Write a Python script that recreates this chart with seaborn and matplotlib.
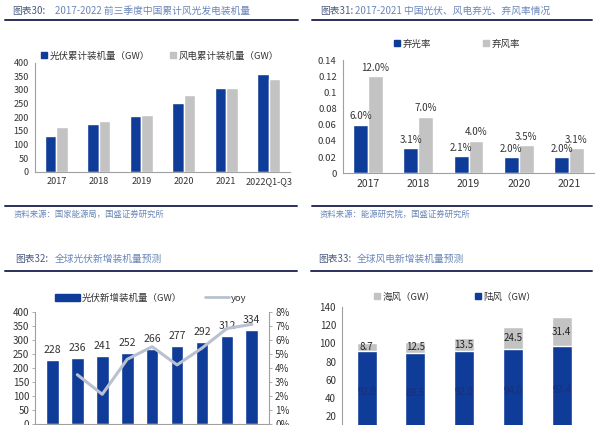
import numpy as np
import pandas as pd
import matplotlib.pyplot as plt
import seaborn as sns
from matplotlib.lines import Line2D
from matplotlib.patches import Patch
from matplotlib.ticker import FuncFormatter

# --- data ---
# chart 30: cumulative installed capacity in China (GW)
years_cum = ["2017", "2018", "2019", "2020", "2021", "2022Q1-Q3"]
pv_cum = [130, 175, 204, 253, 306, 358]
wind_cum = [163, 185, 209, 281, 306, 341]

# chart 31: curtailment rates
years_curt = ["2017", "2018", "2019", "2020", "2021"]
pv_curt = [0.060, 0.031, 0.021, 0.020, 0.020]
wind_curt = [0.120, 0.070, 0.040, 0.035, 0.031]

# chart 32: global new PV installations (GW) and yoy
years_pv_new = ["2022", "2023", "2024", "2025", "2026", "2027", "2028", "2029", "2030"]
pv_new = [228, 236, 241, 252, 266, 277, 292, 312, 334]
pv_yoy = [0.035, 0.021, 0.046, 0.055, 0.042, 0.054, 0.068, 0.071]

# chart 33: global new wind installations (GW)
years_wind_new = ["2022", "2023", "2024", "2025", "2026"]
onshore = [92.0, 89.5, 92.0, 94.0, 97.4]
offshore = [8.7, 12.5, 13.5, 24.5, 31.4]

BLUE = "#0e3c98"
GRAY = "#c3c3c3"
LINE_GRAY = "#b9c1d0"
SPINE = "#a0a0a0"
TXT = "#333333"
TITLE_DARK = "#4a5a80"
TITLE_BLUE = "#6a86b8"
RULE = "#2a2f5c"

W, H = 600, 425


def box(l, t, r, b):
    return [l / W, 1 - b / H, (r - l) / W, (b - t) / H]


def fx(x):
    return x / W


def fy(y):
    return 1 - y / H


def style_axis(ax, size):
    for s in ["top", "right"]:
        ax.spines[s].set_visible(False)
    for s in ["left", "bottom"]:
        ax.spines[s].set_color(SPINE)
        ax.spines[s].set_linewidth(0.8)
    ax.set_xlabel("")
    ax.set_ylabel("")
    ax.tick_params(axis="y", labelsize=size, colors=TXT, length=2.5, width=0.6, pad=2, color=SPINE)
    ax.tick_params(axis="x", which="major", labelsize=size, colors=TXT, length=0, pad=4)
    n = len(ax.get_xticks())
    ax.set_xticks(np.arange(-0.5, n, 1.0), minor=True)
    ax.tick_params(axis="x", which="minor", length=3, width=0.6, color=SPINE)


sns.set_style("white")
plt.rcParams["font.family"] = ["Noto Sans CJK SC", "DejaVu Sans"]

fig = plt.figure(figsize=(6, 4.25), dpi=100)

# ---------------- chart 30 ----------------
df1 = pd.DataFrame({
    "year": years_cum * 2,
    "val": pv_cum + wind_cum,
    "series": ["光伏"] * len(years_cum) + ["风电"] * len(years_cum),
})
ax1 = fig.add_axes(box(35, 62.7, 290, 171.7))
sns.barplot(data=df1, x="year", y="val", hue="series", palette=[BLUE, GRAY],
            width=0.55, gap=0, saturation=1, legend=False, ax=ax1)
ax1.set_ylim(0, 400)
ax1.set_yticks(np.arange(0, 401, 50))
style_axis(ax1, 6.5)
fig.legend([Patch(color=BLUE), Patch(color=GRAY)],
           ["光伏累计装机量（GW）", "风电累计装机量（GW）"],
           loc="center", bbox_to_anchor=(fx(160), fy(56)), ncol=2, frameon=False,
           fontsize=6.8, handlelength=0.6, handleheight=0.6, handletextpad=0.3,
           columnspacing=2.2, labelcolor=TXT)

# ---------------- chart 31 ----------------
df2 = pd.DataFrame({
    "year": years_curt * 2,
    "val": pv_curt + wind_curt,
    "series": ["弃光率"] * len(years_curt) + ["弃风率"] * len(years_curt),
})
ax2 = fig.add_axes(box(343, 60, 594, 173.3))
sns.barplot(data=df2, x="year", y="val", hue="series", palette=[BLUE, GRAY],
            width=0.59, gap=0, saturation=1, legend=False, ax=ax2)
ax2.set_ylim(0, 0.14)
ax2.set_yticks(np.arange(0, 0.141, 0.02))
ax2.yaxis.set_major_formatter(FuncFormatter(lambda v, p: f"{round(v, 2):g}"))
style_axis(ax2, 6.8)
ax2.tick_params(axis="x", which="major", labelsize=7.5)
for cont, vals in zip(ax2.containers, [pv_curt, wind_curt]):
    ax2.bar_label(cont, labels=[f"{v:.1%}" for v in vals], padding=2.5,
                  fontsize=7, color=TXT)
fig.legend([Patch(color=BLUE), Patch(color=GRAY)], ["弃光率", "弃风率"],
           loc="center", bbox_to_anchor=(fx(457), fy(44)), ncol=2, frameon=False,
           fontsize=6.8, handlelength=0.6, handleheight=0.6, handletextpad=0.3,
           columnspacing=5.5, labelcolor=TXT)

# ---------------- chart 32 ----------------
df3 = pd.DataFrame({"year": years_pv_new, "val": pv_new})
ax3 = fig.add_axes(box(35.4, 311.7, 268.8, 423.7))
sns.barplot(data=df3, x="year", y="val", color=BLUE, width=0.51,
            saturation=1, ax=ax3)
ax3.set_ylim(0, 400)
ax3.set_yticks(np.arange(0, 401, 50))
style_axis(ax3, 7)
ax3.tick_params(axis="x", which="major", labelbottom=False)  # cropped off the page
ax3.bar_label(ax3.containers[0], labels=[str(v) for v in pv_new], padding=3.5,
              fontsize=7.5, color=TXT)
ax3r = ax3.twinx()
sns.lineplot(x=np.arange(1, len(pv_new)), y=pv_yoy, color=LINE_GRAY,
             linewidth=2.2, ax=ax3r)
ax3r.set_ylim(0, 0.08)
ax3r.set_yticks(np.arange(0, 0.081, 0.01))
ax3r.yaxis.set_major_formatter(FuncFormatter(lambda v, p: f"{v * 100:.0f}%"))
for s in ["top", "left", "bottom"]:
    ax3r.spines[s].set_visible(False)
ax3r.spines["right"].set_color(SPINE)
ax3r.spines["right"].set_linewidth(0.8)
ax3r.tick_params(axis="y", labelsize=7, colors=TXT, length=2.5, width=0.6,
                 pad=2, color=SPINE)
ax3r.set_xlim(ax3.get_xlim())
fig.legend([Patch(color=BLUE), Line2D([], [], color=LINE_GRAY, lw=2)],
           ["光伏新增装机量（GW）", "yoy"],
           loc="center", bbox_to_anchor=(fx(151), fy(298)), ncol=2, frameon=False,
           fontsize=6.8, handlelength=2.6, handleheight=0.8, handletextpad=0.2,
           columnspacing=2.4, labelcolor=TXT)

# ---------------- chart 33 ----------------
total_wind = [a + b for a, b in zip(onshore, offshore)]
df4 = pd.DataFrame({"year": years_wind_new, "total": total_wind, "on": onshore})
ax4 = fig.add_axes(box(342.3, 307.3, 586, 433.8))
sns.barplot(data=df4, x="year", y="total", color=GRAY, width=0.41,
            saturation=1, ax=ax4)
sns.barplot(data=df4, x="year", y="on", color=BLUE, width=0.41,
            saturation=1, ax=ax4)
ax4.set_ylim(0, 140)
ax4.set_yticks(np.arange(20, 141, 20))
style_axis(ax4, 7)
ax4.tick_params(axis="x", which="major", labelbottom=False)  # cropped off the page
for i, (on, off) in enumerate(zip(onshore, offshore)):
    ax4.text(i, on + off / 2, f"{off:.1f}", ha="center", va="center",
             fontsize=7, color="#222222")
    ax4.text(i, on / 2, f"{on:.1f}", ha="center", va="center",
             fontsize=7, color="#1a2f7a")
fig.legend([Patch(color=GRAY), Patch(color=BLUE)], ["海风（GW）", "陆风（GW）"],
           loc="center", bbox_to_anchor=(fx(455), fy(297)), ncol=2, frameon=False,
           fontsize=6.8, handlelength=0.6, handleheight=0.6, handletextpad=0.3,
           columnspacing=4.2, labelcolor=TXT)

# ---------------- page furniture: titles, rules, sources ----------------
titles = [
    (12, 11, "图表30:", 55, "2017-2022 前三季度中国累计风光发电装机量"),
    (320, 11, "图表31:", 355, "2017-2021 中国光伏、风电弃光、弃风率情况"),
    (15, 259, "图表32:", 55, "全球光伏新增装机量预测"),
    (318, 259, "图表33:", 357, "全球风电新增装机量预测"),
]
for x0, y0, tag, x1, text in titles:
    fig.text(fx(x0), fy(y0), tag, color=TITLE_DARK, fontsize=7, style="italic",
             va="center", ha="left")
    fig.text(fx(x1), fy(y0), text, color=TITLE_BLUE, fontsize=7, style="italic",
             va="center", ha="left")

rules = [(5, 298, 20), (312, 592, 20), (5, 297, 206.5), (312, 592, 206.5),
         (5, 297, 270.5), (311, 592, 270.5)]
for xa, xb, yy in rules:
    fig.add_artist(Line2D([fx(xa), fx(xb)], [fy(yy), fy(yy)],
                          transform=fig.transFigure, color=RULE, lw=1.4))

sources = [(14, "资料来源：国家能源局，国盛证券研究所"),
           (320, "资料来源：能源研究院，国盛证券研究所")]
for x0, text in sources:
    fig.text(fx(x0), fy(214), text, color=TITLE_BLUE, fontsize=6,
             style="italic", va="center", ha="left")

fig.savefig("out.png", dpi=100)
